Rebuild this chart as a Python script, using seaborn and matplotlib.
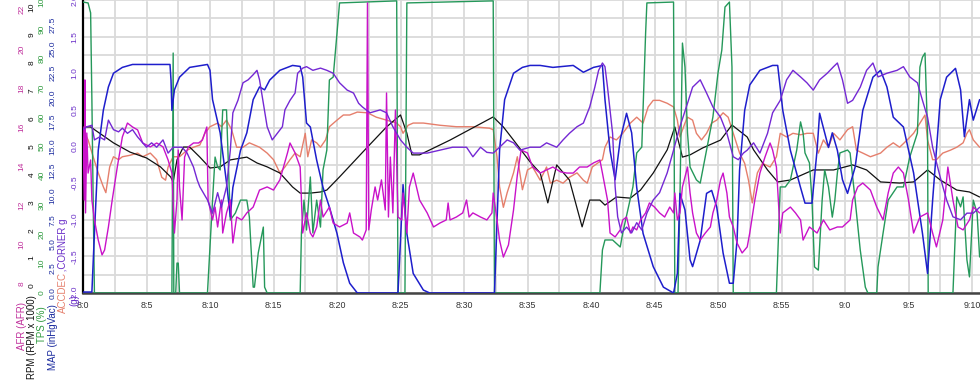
import numpy as np
import matplotlib
matplotlib.use("Agg")
import matplotlib.pyplot as plt
import seaborn as sns
from matplotlib.transforms import blended_transform_factory

# ---------------- data (time in minutes after 8:00) ----------------
rpm_t = [0.0,0.6,2.4,3.7,5.0,6.1,6.9,7.1,7.4,7.9,8.4,9.2,10.0,10.8,11.6,12.9,13.7,14.5,15.5,16.5,
         17.1,17.9,18.7,19.2,20.2,22.4,23.9,25.0,25.5,25.9,26.5,28.9,32.3,33.1,33.9,35.2,36.0,36.6,37.3,38.3,
         39.3,39.9,40.7,41.1,42.0,43.1,43.9,44.9,46.0,46.6,47.2,47.8,48.8,50.2,51.1,52.3,52.8,53.9,54.7,55.7,
         57.5,59.1,60.6,61.7,62.8,64.3,65.4,66.5,67.5,68.8,69.8,70.6]
rpm_v = [5.70,5.70,5.13,4.80,4.59,4.27,3.91,3.73,4.52,4.98,4.98,4.62,4.23,4.27,4.52,4.62,4.41,4.27,4.05,3.55,
         3.33,3.33,3.37,3.44,3.91,4.98,5.70,6.13,5.48,4.70,4.70,5.23,6.06,5.70,5.23,4.45,4.05,2.98,4.34,3.80,
         2.12,3.08,3.08,2.90,3.19,3.15,3.44,4.05,4.88,5.70,4.62,4.70,4.95,5.23,5.77,5.34,4.88,4.16,3.73,3.80,
         4.16,4.16,4.34,4.16,3.73,3.69,3.73,4.16,3.80,3.44,3.37,3.19]

map_t = [0.0,0.7,0.9,1.2,1.6,2.0,2.4,3.1,3.9,6.85,6.93,7.0,7.2,7.6,8.4,9.8,10.0,10.2,10.8,11.3,
         11.6,11.8,12.4,12.9,13.4,13.9,14.3,14.7,15.5,16.5,17.1,17.3,17.6,17.9,18.4,18.9,19.4,20.0,20.5,21.0,
         21.6,24.8,25.0,25.2,25.35,25.5,26.0,26.8,27.3,32.4,32.8,33.2,33.9,34.6,35.2,36.0,37.0,38.6,39.4,40.2,
         40.9,41.1,41.5,41.9,42.3,42.8,43.2,43.6,44.1,44.9,45.7,46.5,46.8,47.0,47.4,47.8,48.0,48.6,49.1,49.5,
         49.9,50.4,50.9,51.2,51.5,51.7,52.1,52.5,53.3,54.3,54.7,55.1,55.7,56.5,56.85,57.4,57.8,58.0,58.4,58.7,
         59.0,59.4,59.8,60.2,60.8,61.4,62.2,62.8,63.3,63.8,64.6,65.4,66.1,66.5,66.9,67.5,68.0,68.7,69.1,69.4,
         69.8,70.1,70.6]
map_v = [0.1,0.1,6.1,14.6,18.7,21.1,22.5,23.1,23.4,23.4,21.8,18.7,20.8,22.1,23.1,23.4,22.8,19.8,16.4,11.3,
         7.8,10.8,14.6,16.4,19.8,21.1,20.8,21.8,22.8,23.3,23.2,22.1,17.4,17.0,13.6,10.8,8.8,6.1,3.1,1.0,
         0.0,0.0,5.4,11.1,8.5,6.1,2.0,0.3,0.0,0.0,14.6,19.8,22.5,23.1,23.3,23.3,23.1,23.3,22.6,23.1,
         23.3,19.8,14.6,11.6,15.7,18.4,16.4,10.8,6.1,2.7,0.6,0.0,2.0,10.2,8.5,3.4,2.7,5.4,10.2,10.5,
         8.8,4.1,1.0,1.0,5.4,12.6,18.7,21.3,22.8,23.3,23.3,18.7,14.6,10.8,9.2,9.2,14.6,18.4,16.4,14.9,
         16.4,14.6,11.6,10.2,12.9,18.7,22.1,22.8,21.1,18.0,17.0,12.3,6.1,2.0,9.5,19.8,22.1,23.0,20.8,16.0,
         19.8,17.7,19.8]

tps_t = [0.0,0.4,0.6,0.7,0.8,0.9,7.0,7.1,7.15,7.3,7.4,7.5,7.6,9.8,10.2,10.4,10.6,10.8,11.0,11.3,
         11.6,12.0,12.4,12.9,13.1,13.4,13.5,13.8,14.2,14.3,14.5,17.1,17.2,17.4,17.6,17.9,18.1,18.4,18.7,18.9,
         19.2,19.4,19.7,20.0,20.2,24.7,24.8,25.35,25.5,32.3,32.4,40.7,40.9,41.1,41.7,42.3,42.5,43.3,43.6,44.0,
         44.3,44.4,46.5,46.6,46.85,47.0,47.2,47.4,47.6,47.8,48.3,48.6,49.1,49.6,50.0,50.3,50.55,50.9,51.1,51.2,
         54.6,54.9,55.3,55.7,56.2,56.5,56.7,56.85,57.2,57.4,57.6,57.9,58.2,58.4,58.7,59.0,59.2,59.4,59.6,60.2,
         60.4,60.8,61.2,61.6,61.8,62.5,62.6,63.0,63.4,64.1,64.6,65.1,65.7,65.9,66.1,66.3,66.5,66.55,68.5,68.8,
         69.1,69.3,69.6,69.8,70.1,70.4,70.6]
tps_v = [99.3,99.0,95.6,65.9,31.7,0,0,81.9,0,0,10.2,10.2,0,0,31.7,46.4,43.0,42.0,62.5,62.5,
         24.9,27.3,31.7,31.7,25.9,2.0,2.0,13.7,22.5,2.0,0,0,20.5,31.7,21.5,39.6,20.5,31.7,22.5,42.0,
         48.8,72.7,73.7,88.7,99.0,99.7,0,0,99.0,99.7,0,0,14.7,18.1,18.1,15.7,20.5,36.2,47.8,49.8,
         88.7,99.0,99.3,0,0,31.7,85.3,77.1,54.6,43.0,38.6,37.5,48.8,60.1,75.1,82.9,97.6,99.3,77.1,0,
         0,36.2,36.2,38.6,48.8,58.4,54.6,47.8,44.4,31.7,8.9,7.8,31.7,42.0,36.2,25.9,31.7,41.0,47.8,48.8,
         47.8,31.7,14.7,2.0,0,0,8.9,20.5,31.7,36.2,36.2,46.4,54.6,77.1,80.5,81.9,54.6,0,0,32.8,
         29.4,32.8,11.3,5.5,31.7,27.3,12.3]

corner_t = [0.0,0.3,0.7,0.9,1.3,1.7,2.0,2.4,2.8,3.1,3.5,3.9,4.3,4.7,5.0,5.4,5.8,6.3,6.7,7.1,
            7.4,7.8,8.2,8.7,9.0,9.2,9.8,10.2,10.6,10.9,11.3,11.6,11.8,12.2,12.6,13.0,13.4,13.7,13.9,14.2,
            14.5,14.9,15.3,15.7,15.9,16.3,16.7,16.9,17.3,17.6,18.1,18.7,19.2,19.7,20.2,20.8,21.3,21.7,22.0,22.6,
            23.4,23.9,24.4,25.0,25.5,26.0,27.1,28.1,29.1,30.2,30.7,31.3,31.8,32.3,32.8,33.4,33.9,34.4,35.2,36.0,
            36.5,37.3,37.8,38.3,38.9,39.4,39.9,40.3,40.6,40.9,41.1,41.3,41.7,41.9,42.1,42.4,42.8,43.2,43.6,44.0,
            44.4,44.9,45.4,46.0,46.5,47.0,47.6,48.0,48.6,49.1,49.6,50.2,50.7,51.2,51.6,52.0,52.3,52.8,53.3,53.9,
            54.3,54.9,55.4,55.9,56.5,57.0,57.5,58.0,58.6,59.1,59.4,59.8,60.2,60.6,61.2,61.7,62.2,62.6,63.3,64.1,
            64.6,65.1,65.7,66.1,66.5,66.9,67.5,68.0,68.5,69.1,69.6,70.1,70.6]
corner_v = [0.23,0.27,0.29,0.09,0.13,0.09,0.36,0.23,0.20,0.25,0.18,0.23,0.13,0.05,-0.01,0.05,-0.01,0.09,-0.09,-0.01,
            -0.01,-0.01,-0.09,-0.28,-0.46,-0.55,-0.73,-0.91,-0.63,-0.83,-0.55,-0.05,0.46,0.63,0.87,0.91,0.98,1.04,0.91,0.59,
            0.27,0.09,0.18,0.27,0.50,0.63,0.73,1.00,1.07,1.09,1.04,1.07,1.04,1.00,0.87,0.77,0.73,0.59,0.54,0.46,
            0.50,0.46,0.27,0.09,-0.01,-0.09,-0.09,-0.05,-0.01,-0.01,-0.14,-0.01,-0.08,-0.09,-0.01,0.09,0.05,-0.05,-0.01,-0.01,
            0.05,-0.01,0.09,0.18,0.27,0.32,0.54,0.81,1.04,1.14,1.09,0.81,0.18,-0.55,-0.96,-1.18,-1.10,-1.18,-1.04,-1.14,
            -0.91,-0.73,-0.63,-0.36,-0.05,0.27,0.59,0.81,0.91,0.73,0.54,0.40,0.18,-0.14,-0.18,-0.09,-0.05,0.05,-0.09,0.18,
            0.46,0.63,0.91,1.04,0.95,0.87,0.77,0.91,1.00,1.09,1.14,0.91,0.59,0.63,0.81,1.04,1.14,0.95,1.00,1.04,
            1.09,0.95,0.87,0.63,0.40,-0.01,-0.42,-0.73,-0.96,-1.00,-0.91,-0.91,-0.83]

accdec_t = [0.0,0.4,0.8,1.2,1.6,1.8,2.1,2.4,2.8,3.1,3.7,4.3,4.7,5.3,5.8,6.2,6.5,6.7,7.1,7.6,
            8.2,8.7,9.2,9.6,10.0,10.6,10.9,11.3,11.7,12.1,12.6,13.1,13.9,14.5,15.0,15.5,15.9,16.3,16.7,17.1,
            17.5,17.7,18.0,18.4,18.7,19.1,19.4,20.0,20.5,21.0,21.6,22.4,23.1,23.9,24.7,25.0,25.2,25.6,26.0,26.8,
            28.1,29.4,30.7,32.0,32.3,32.6,32.8,33.1,33.4,33.9,34.2,34.6,35.0,35.4,36.0,36.5,36.8,37.3,37.8,38.3,
            38.9,39.4,39.7,40.1,40.5,40.9,41.1,41.5,42.0,42.5,43.1,43.6,44.1,44.5,44.9,45.4,46.0,46.5,46.8,47.0,
            47.4,47.6,48.0,48.3,48.7,49.1,49.5,49.9,50.4,50.8,51.2,51.7,52.1,52.4,52.7,52.9,53.1,53.5,54.1,54.6,
            54.9,55.4,55.9,56.5,57.0,57.5,57.9,58.3,58.7,59.1,59.6,60.2,60.6,60.9,61.4,62.0,62.8,63.3,63.8,64.3,
            64.9,65.4,65.9,66.3,66.5,66.9,67.2,67.7,68.3,68.8,69.3,69.6,69.8,70.1,70.6]
accdec_v = [0.23,0.09,-0.14,-0.36,-0.55,-0.63,-0.28,-0.14,-0.18,-0.14,-0.12,-0.09,-0.14,-0.09,-0.18,-0.42,-0.46,-0.28,-0.14,-0.14,
            -0.05,-0.01,0.02,0.18,0.27,0.32,0.27,0.36,0.23,-0.01,-0.01,0.05,-0.01,-0.09,-0.18,-0.36,-0.28,-0.18,-0.09,-0.14,
            0.18,-0.14,0.09,0.05,-0.01,0.09,0.27,0.36,0.43,0.43,0.47,0.46,0.40,0.36,0.32,0.27,0.18,0.29,0.32,0.32,
            0.29,0.27,0.27,0.25,0.23,-0.14,-0.55,-0.83,-0.63,-0.36,-0.14,-0.59,-0.32,-0.28,-0.46,-0.28,-0.50,-0.46,-0.50,-0.42,
            -0.36,-0.46,-0.50,-0.28,-0.23,-0.18,-0.01,0.13,0.09,0.18,0.32,0.40,0.32,0.54,0.63,0.63,0.59,0.54,0.36,0.13,
            0.32,0.40,0.36,0.18,0.09,0.18,0.32,0.36,0.46,0.40,0.18,-0.09,-0.23,-0.46,-0.77,-0.55,-0.36,-0.23,-0.28,-0.14,
            0.18,0.13,0.18,0.16,0.18,0.18,-0.09,0.09,-0.01,0.18,0.09,0.23,0.27,-0.05,-0.09,-0.14,-0.09,-0.01,0.05,-0.01,
            0.09,0.18,0.32,0.43,0.09,-0.18,-0.18,-0.09,-0.05,-0.01,0.05,0.18,0.23,0.09,-0.01]

afr_t = [0.0,0.1,0.15,0.2,0.3,0.4,0.6,0.7,0.9,1.2,
         1.5,1.7,2.0,2.3,2.7,3.1,3.5,3.9,4.3,4.7,
         5.3,5.8,6.3,6.7,7.0,7.2,7.4,7.5,7.6,7.8,
         8.0,8.3,8.7,9.1,9.4,9.75,9.85,10.2,10.4,10.6,
         10.9,11.0,11.3,11.6,11.8,12.1,12.5,12.9,13.4,13.9,
         14.5,15.0,15.5,16.1,16.3,16.7,17.1,17.3,17.6,17.9,
         18.1,18.4,18.7,18.9,19.4,19.7,20.2,20.8,21.0,21.3,
         21.8,22.0,22.3,22.4,22.5,22.7,23.0,23.2,23.5,23.8,
         23.9,24.05,24.2,24.4,24.6,24.8,25.1,25.2,25.5,25.7,
         26.0,26.5,27.1,27.6,28.1,28.6,28.75,28.9,29.4,29.9,
         30.2,30.4,30.7,31.3,31.8,32.2,32.3,32.6,32.8,33.1,
         33.5,33.9,34.2,34.5,35.0,35.4,36.0,36.5,37.0,37.6,
         38.1,38.6,39.1,39.7,40.2,40.7,40.9,41.3,41.5,41.9,
         42.3,42.5,42.8,43.1,43.3,43.6,43.9,44.3,44.6,45.0,
         45.4,45.8,46.2,46.5,46.6,46.8,47.0,47.2,47.6,47.8,
         48.0,48.3,48.6,49.0,49.4,49.6,49.9,50.2,50.4,50.7,
         50.9,51.2,51.5,51.9,52.3,52.5,52.9,53.3,53.7,54.1,
         54.3,54.6,54.9,55.1,55.7,56.1,56.5,56.7,57.2,57.8,
         58.3,58.8,59.4,59.8,60.4,60.6,61.0,61.4,62.0,62.5,
         63.0,63.4,63.8,64.2,64.6,65.0,65.4,65.9,66.5,66.9,
         67.2,67.7,68.1,68.5,68.9,69.3,69.8,70.1,70.6]
afr_v = [16.0,12.26,18.41,11.60,15.69,13.64,14.31,12.26,11.24,10.21,
         9.45,9.70,10.88,12.26,13.95,15.49,16.20,16.0,15.85,15.18,
         14.98,15.18,14.98,14.31,13.64,10.57,12.26,14.82,12.93,11.24,
         14.46,14.98,15.18,15.18,15.33,16.0,12.26,11.24,11.90,10.88,
         12.26,10.57,11.60,12.26,10.06,11.39,11.24,11.60,11.90,12.77,
         12.93,12.77,13.29,14.67,15.18,14.67,13.95,10.57,11.60,10.57,
         10.37,10.88,12.26,11.39,11.90,11.08,10.88,11.08,11.60,10.57,
         10.37,10.21,10.73,22.35,10.73,11.75,12.93,12.26,13.29,11.75,
         17.74,11.39,14.46,11.60,16.87,11.39,11.24,12.62,10.57,12.93,
         13.64,12.26,11.60,10.88,11.08,11.24,12.11,11.24,11.39,11.60,
         12.26,11.39,11.60,11.39,11.24,11.60,12.62,11.24,10.21,9.34,
         9.96,11.75,13.54,14.82,14.67,13.95,13.64,13.80,13.95,13.70,
         13.64,13.64,13.95,13.95,14.16,14.31,13.64,12.26,10.57,10.37,
         10.73,11.24,11.39,10.57,10.88,10.73,11.24,11.60,12.11,11.90,
         11.60,11.39,11.90,11.60,12.62,11.24,11.60,12.93,13.95,12.62,
         11.60,10.57,10.21,10.57,10.88,11.60,12.26,13.29,13.64,12.62,
         11.39,10.88,10.06,9.55,9.86,10.57,12.26,13.64,14.46,15.18,
         14.82,13.95,10.57,11.60,11.90,11.60,11.24,10.21,10.88,10.57,
         11.24,10.73,10.88,10.88,11.24,12.26,12.93,13.13,12.77,11.90,
         11.24,12.62,13.64,13.95,13.64,12.26,10.57,11.39,11.60,10.57,
         9.86,11.24,13.95,12.26,10.88,10.73,11.24,11.90,11.60]

# axis tick values / labels
x_ticks = [0, 5, 10, 15, 20, 25, 30, 35, 40, 45, 50, 55, 60, 65, 70]
x_labels = ["8:0", "8:5", "8:10", "8:15", "8:20", "8:25", "8:30", "8:35",
            "8:40", "8:45", "8:50", "8:55", "9:0", "9:5", "9:10"]
g_ticks = [-2.0, -1.5, -1.0, -0.5, 0.0, 0.5, 1.0, 1.5, 2.0]
afr_ticks = [8, 10, 12, 14, 16, 18, 20, 22]
rpm_ticks = [0, 1, 2, 3, 4, 5, 6, 7, 8, 9, 10]
tps_ticks = [0, 10, 20, 30, 40, 50, 60, 70, 80, 90, 100]
map_ticks = [0.0, 2.5, 5.0, 7.5, 10.0, 12.5, 15.0, 17.5, 20.0, 22.5, 25.0, 27.5]

# ---------------- styling ----------------
sns.set_style("white")
plt.rcParams['font.family'] = ['Liberation Sans', 'DejaVu Sans']

C_GREEN = "#25985a"
C_BLUE = "#1e1ecc"
C_VIOLET = "#7428d4"
C_MAGENTA = "#c912c9"
C_SALMON = "#e57f6c"
C_BLACK = "#111111"

W, H = 980, 386
fig = plt.figure(figsize=(W / 100, H / 100), dpi=100)
fig.patch.set_facecolor("white")
x0, yb = 83, 293
ax = fig.add_axes([x0 / W, 1 - yb / H, 1 - x0 / W, yb / H])
XMAX = (W - x0) / 12.7
ax.set_xlim(0, XMAX)
ax.set_ylim(-2, 2)

ax.set_xticks(x_ticks)
ax.set_xticklabels(x_labels)
ax.set_xticks(np.arange(2.5, XMAX, 5), minor=True)
ax.set_yticks(g_ticks)
ax.set_yticklabels([f"{v:.1f}" for v in g_ticks])
ax.set_yticks(np.arange(-1.75, 2.0, 0.5), minor=True)
ax.grid(which="both", color="#dadada", lw=1.3)
ax.set_axisbelow(True)
ax.tick_params(axis="x", which="both", length=0, pad=6, labelsize=6.4, labelcolor="#333333")
ax.tick_params(axis="y", which="both", length=0, pad=3, labelsize=6.0, labelcolor="#6a2fc8")
for lab in ax.get_yticklabels():
    lab.set_rotation(90)
    lab.set_va("center")
for s in ["top", "right"]:
    ax.spines[s].set_visible(False)
ax.spines["left"].set_color("black")
ax.spines["left"].set_linewidth(1.6)
ax.spines["bottom"].set_color("#444444")
ax.spines["bottom"].set_linewidth(1.8)


def twin(lo, hi):
    a = ax.twinx()
    a.set_ylim(lo, hi)
    a.set_xlim(0, XMAX)
    a.axis("off")
    return a


ax_rpm = twin(-0.25, 10.25)
ax_tps = twin(0, 100)
ax_map = twin(0, 30)
ax_afr = twin(7.5, 22.5)
ax_cor = twin(-2, 2)

kw = dict(sort=False, estimator=None, legend=False)
sns.lineplot(x=accdec_t, y=accdec_v, ax=ax, color=C_SALMON, lw=1.0, **kw)
sns.lineplot(x=rpm_t, y=rpm_v, ax=ax_rpm, color=C_BLACK, lw=0.9, **kw)
sns.lineplot(x=tps_t, y=tps_v, ax=ax_tps, color=C_GREEN, lw=1.0, **kw)
sns.lineplot(x=map_t, y=map_v, ax=ax_map, color=C_BLUE, lw=1.1, **kw)
sns.lineplot(x=afr_t, y=afr_v, ax=ax_afr, color=C_MAGENTA, lw=1.0, **kw)
sns.lineplot(x=corner_t, y=corner_v, ax=ax_cor, color=C_VIOLET, lw=1.0, **kw)
ax.set_xlabel("")
ax.set_ylabel("")

# stacked axis scales on the left
def scale_labels(a, xpx, ticks, fmt, color):
    tr = blended_transform_factory(fig.transFigure, a.transData)
    for v in ticks:
        fig.text(xpx / W, v, fmt(v), transform=tr, rotation=90, ha="center", va="center",
                 fontsize=6.0, color=color, clip_on=False)

scale_labels(ax_afr, 22, afr_ticks, lambda v: f"{v}", "#c0309c")
scale_labels(ax_rpm, 32, rpm_ticks, lambda v: f"{v}", "#111111")
scale_labels(ax_tps, 42, tps_ticks, lambda v: f"{v}", "#2e9a3e")
scale_labels(ax_map, 53, map_ticks, lambda v: f"{v:.1f}", "#1a2a9e")

def vlabel(xpx, ypx, s, color, va):
    fig.text(xpx / W, 1 - ypx / H, s, rotation=90, ha="center", va=va, fontsize=7.0, color=color)

vlabel(22, 302, "AFR (AFR)", "#c0309c", "top")
vlabel(32, 295, "RPM (RPM x 1000)", "#111111", "top")
vlabel(42, 306, "TPS (%)", "#2e9a3e", "top")
vlabel(53, 304, "MAP (inHgVac)", "#1a2a9e", "top")
vlabel(63, 313, "ACCDEC", C_SALMON, "bottom")
vlabel(63, 274, " ,CORNER g", "#6a2fc8", "bottom")
vlabel(74, 294, "(g)", "#6a2fc8", "top")

fig.savefig("out.png", dpi=100, facecolor="white")
